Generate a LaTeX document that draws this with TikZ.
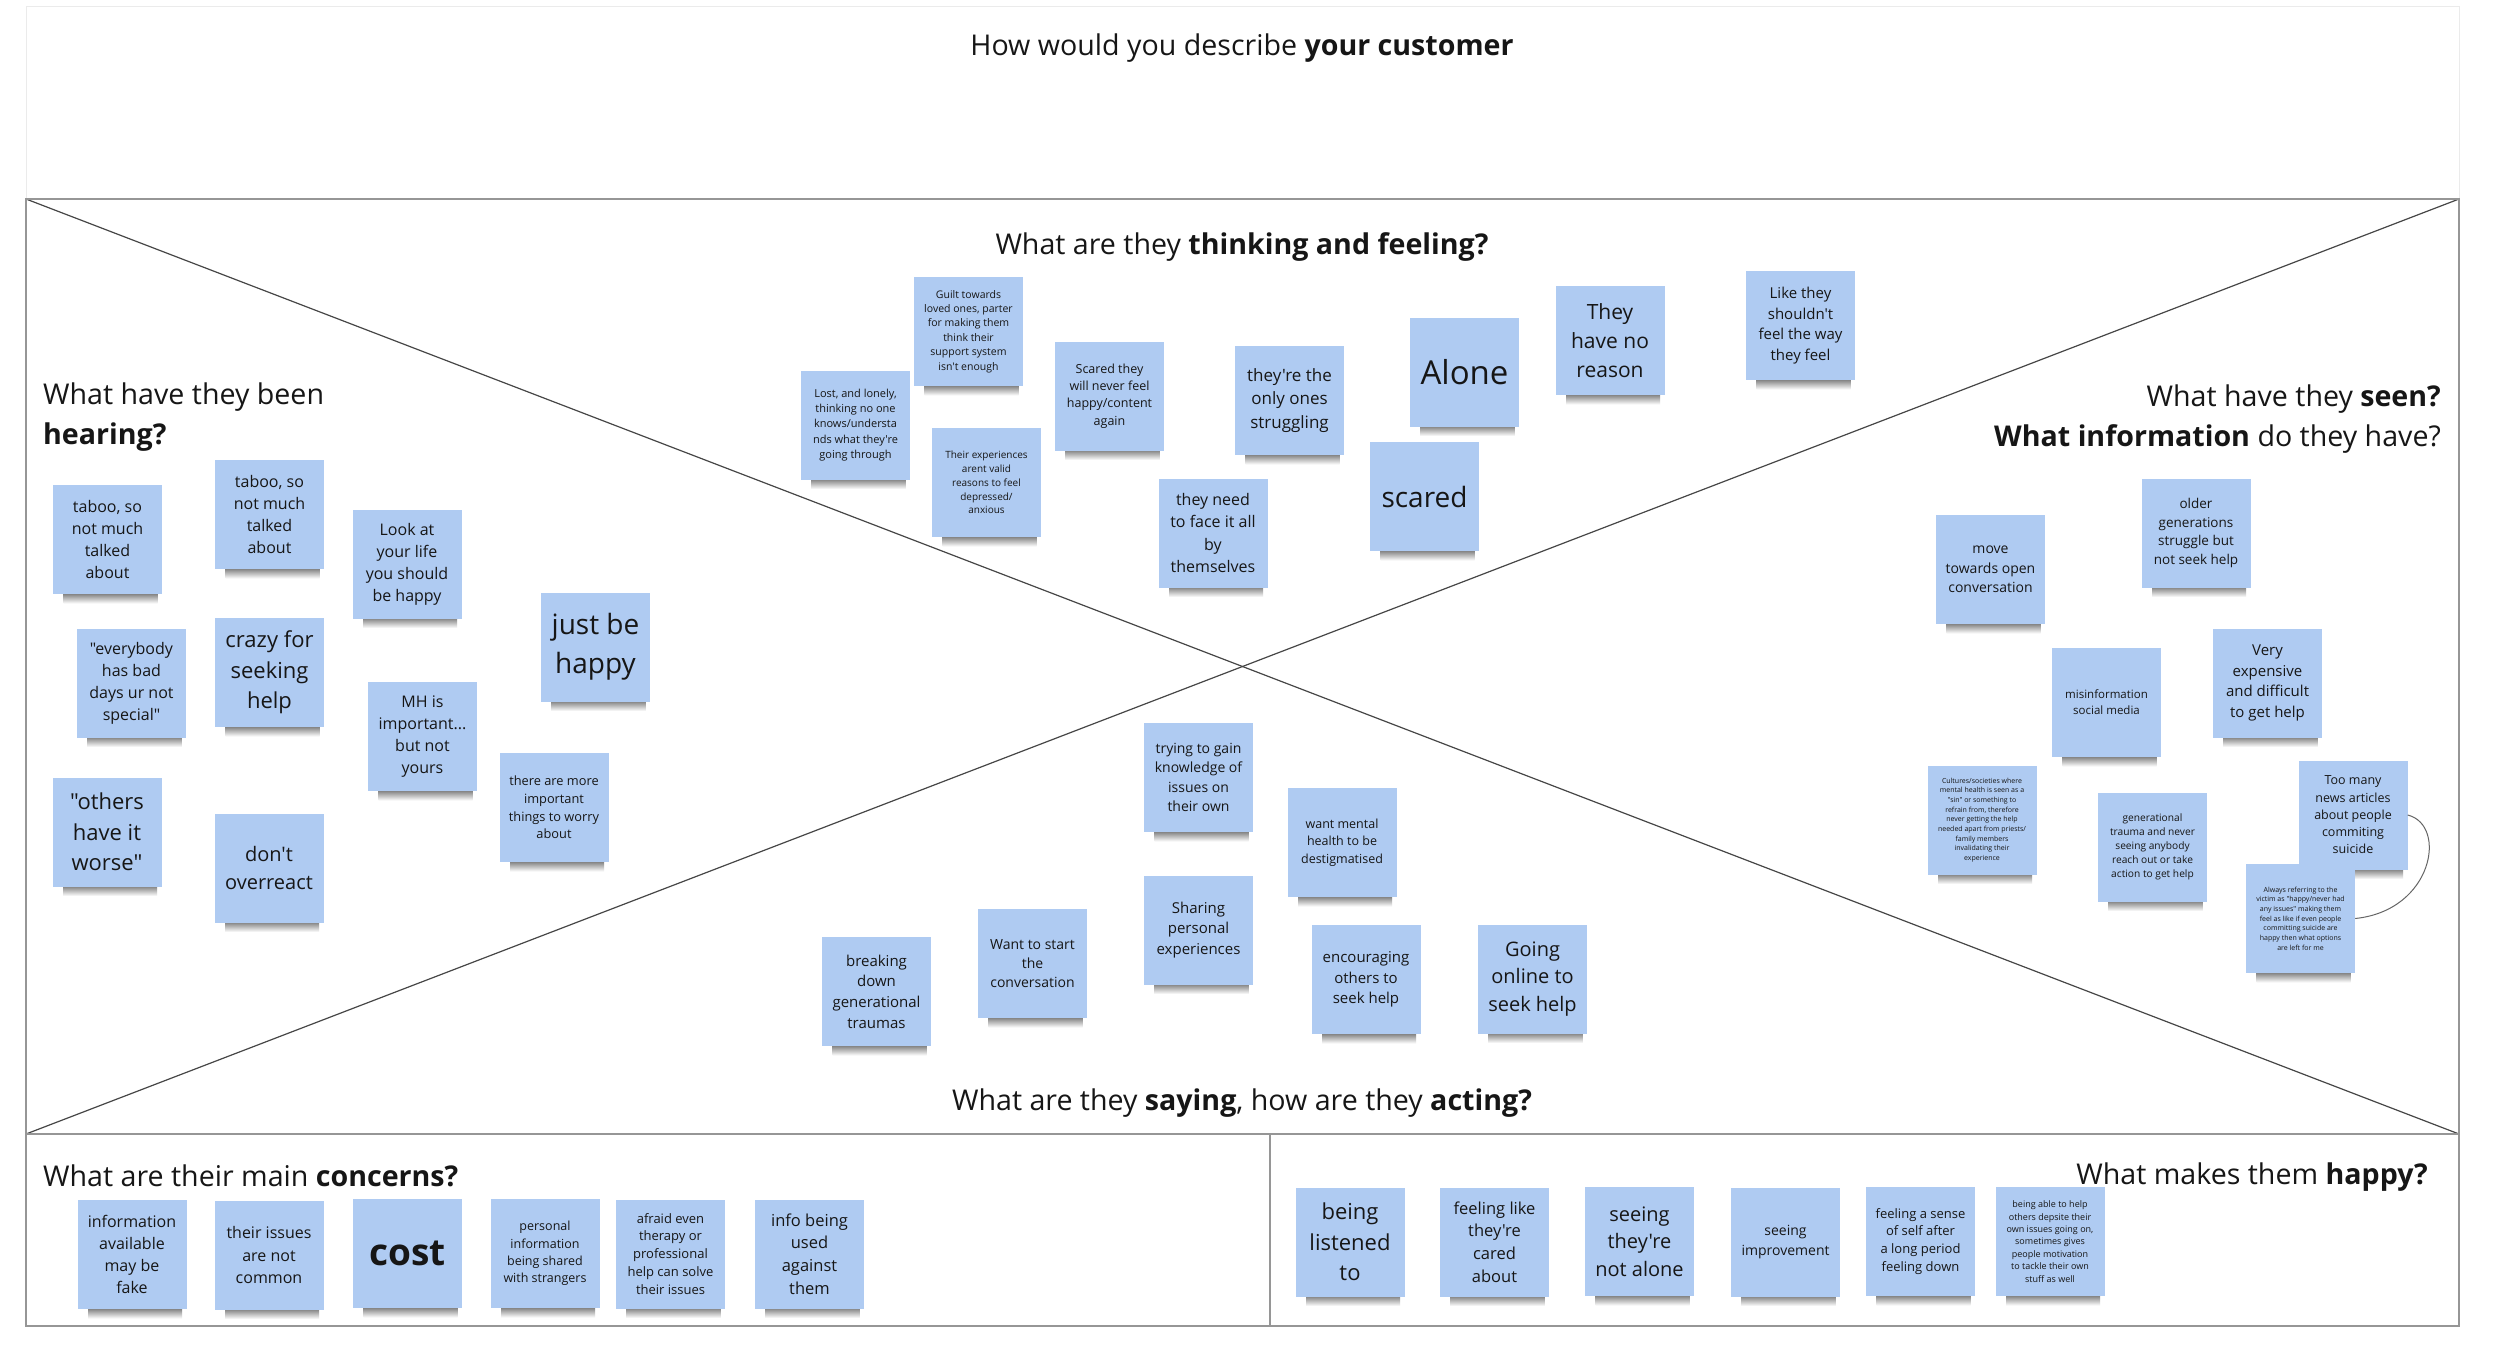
\documentclass[tikz,border=0pt]{standalone}
\usepackage{fontspec}
\setmainfont{Open Sans}[Ligatures=TeXOff]
\definecolor{stickyblue}{RGB}{175,203,242}
\definecolor{framegray}{RGB}{150,150,150}
\definecolor{linegray}{RGB}{70,70,70}
\definecolor{ink}{RGB}{22,22,22}
\tikzset{
  sticky/.style={rectangle, fill=stickyblue, minimum width=109pt, minimum height=109pt, inner sep=0pt, align=center, text=ink},
  stshadow/.style={top color=black!60, bottom color=white},
  heading/.style={font=\fontsize{28.6}{40}\selectfont, text=ink, inner sep=0pt},
  framestyle/.style={draw=framegray, line width=2pt},
  diag/.style={draw=linegray, line width=1.2pt},
  link/.style={draw=black!60, line width=1pt},
}
\newcommand\stk[5]{%
  \shade[stshadow] (#2-44,#3+52) rectangle (#2+50,#3+64);
  \pgfmathsetmacro{\stkbls}{#4*1.38}%
  \node[sticky,font=\fontsize{#4}{\stkbls}\selectfont] (#1) at (#2,#3) {#5};
}
\begin{document}
\begin{tikzpicture}[x=1pt,y=-1pt]
\useasboundingbox (0,0) rectangle (2500,1366);
\fill[white] (0,0) rectangle (2500,1366);

% frame
\draw[black!8, line width=1pt] (26,6) rectangle (2459,199);
\coordinate (TL) at (26,199);
\coordinate (TR) at (2459,199);
\coordinate (ML) at (26,1134);
\coordinate (MR) at (2459,1134);
\coordinate (BL) at (26,1326);
\coordinate (BR) at (2459,1326);
\coordinate (DT) at (1270,1134);
\coordinate (DB) at (1270,1326);
\draw[diag] (TL) -- (MR);
\draw[diag] (ML) -- (TR);
\draw[framestyle] (TL) rectangle (BR);
\draw[framestyle] (ML) -- (MR);
\draw[framestyle] (DT) -- (DB);

% headings
\node[heading] (title) at (1242,48) {How would you describe \textbf{your customer}};
\node[heading] (think) at (1242,247) {What are they \textbf{thinking and feeling?}};
\node[heading, anchor=west, align=left] (hear) at (43,417) {What have they been\\\textbf{hearing?}};
\node[heading, anchor=east, align=right] (seen) at (2441,419) {What have they \textbf{seen?}\\\textbf{What information} do they have?};
\node[heading] (say) at (1242,1103) {What are they \textbf{saying}, how are they \textbf{acting?}};
\node[heading, anchor=west] (conc) at (43,1176) {What are their main \textbf{concerns?}};
\node[heading, anchor=east] (happy) at (2428,1177) {What makes them \textbf{happy?}};

% hearing
\stk{h1}{107.5}{539.5}{16}{taboo, so\\not much\\talked\\about}
\stk{h2}{269.5}{514.5}{16}{taboo, so\\not much\\talked\\about}
\stk{h3}{407}{564}{16}{Look at\\your life\\you should\\be happy}
\stk{h4}{595.5}{647}{28}{just be\\happy}
\stk{h5}{131.5}{683}{16}{"everybody\\has bad\\days ur not\\special"}
\stk{h6}{269.5}{672.5}{22}{crazy for\\seeking\\help}
\stk{h7}{422.5}{736.5}{16}{MH is\\important...\\but not\\yours}
\stk{h8}{107}{832}{22}{"others\\have it\\worse"}
\stk{h9}{269}{868}{20}{don't\\overreact}
\stk{h10}{554}{807.5}{12.8}{there are more\\important\\things to worry\\about}

% thinking
\stk{t1}{968.5}{331.5}{10.5}{Guilt towards\\loved ones, parter\\for making them\\think their\\support system\\isn't enough}
\stk{t2}{855.5}{425}{11}{Lost, and lonely,\\thinking no one\\knows/understa\\nds what they're\\going through}
\stk{t3}{986.5}{482.5}{10}{Their experiences\\arent valid\\reasons to feel\\depressed/\\anxious}
\stk{t4}{1109.5}{396}{12.5}{Scared they\\will never feel\\happy/content\\again}
\stk{t5}{1289.5}{400.5}{17}{they're the\\only ones\\struggling}
\stk{t6}{1213}{533}{16}{they need\\to face it all\\by\\themselves}
\stk{t7}{1464.5}{372}{33}{Alone}
\stk{t8}{1424.5}{496.5}{28}{scared}
\stk{t9}{1610}{340.5}{21}{They\\have no\\reason}
\stk{t10}{1800.5}{325.5}{15}{Like they\\shouldn't\\feel the way\\they feel}

% seen
\stk{s1}{1990.5}{569.5}{14}{move\\towards open\\conversation}
\stk{s2}{2196}{533}{13.5}{older\\generations\\struggle but\\not seek help}
\stk{s3}{2106.5}{702.5}{11.5}{misinformation\\social media}
\stk{s4}{2267.5}{683}{15}{Very\\expensive\\and difficult\\to get help}
\stk{s5}{1982}{820}{7}{Cultures/societies where\\mental health is seen as a\\"sin" or something to\\refrain from, therefore\\never getting the help\\needed apart from priests/\\family members\\invalidating their\\experience}
\stk{s6}{2152.5}{847}{10.2}{generational\\trauma and never\\seeing anybody\\reach out or take\\action to get help}
\stk{s7}{2353}{815}{12.5}{Too many\\news articles\\about people\\commiting\\suicide}
\stk{s8}{2300.5}{918.5}{7}{Always referring to the\\victim as "happy/never had\\any issues" making them\\feel as like if even people\\committing suicide are\\happy then what options\\are left for me}
\draw[link] (s7.east) .. controls +(40,10) and +(78,-8) .. (s8.east);

% saying / acting
\stk{a1}{1198.5}{777.5}{14}{trying to gain\\knowledge of\\issues on\\their own}
\stk{a2}{1342}{842.5}{12.5}{want mental\\health to be\\destigmatised}
\stk{a3}{1198.5}{930}{15}{Sharing\\personal\\experiences}
\stk{a4}{876.5}{991.5}{15}{breaking\\down\\generational\\traumas}
\stk{a5}{1032.5}{963.5}{14}{Want to start\\the\\conversation}
\stk{a6}{1366}{979.5}{15}{encouraging\\others to\\seek help}
\stk{a7}{1532.5}{979}{20}{Going\\online to\\seek help}

% concerns
\stk{c1}{132}{1254.5}{16}{information\\available\\may be\\fake}
\stk{c2}{269}{1255}{16}{their issues\\are not\\common}
\stk{c3}{407.5}{1253.5}{37}{\textbf{cost}}
\stk{c4}{545}{1253.5}{12.5}{personal\\information\\being shared\\with strangers}
\stk{c5}{670.5}{1254}{13}{afraid even\\therapy or\\professional\\help can solve\\their issues}
\stk{c6}{809.5}{1254}{16.5}{info being\\used\\against\\them}

% happy
\stk{p1}{1350}{1242}{22}{being\\listened\\to}
\stk{p2}{1494.5}{1242}{16.5}{feeling like\\they're\\cared\\about}
\stk{p3}{1639.5}{1241.5}{20}{seeing\\they're\\not alone}
\stk{p4}{1785.5}{1242}{14}{seeing\\improvement}
\stk{p5}{1920.5}{1241.5}{13}{feeling a sense\\of self after\\a long period\\feeling down}
\stk{p6}{2050}{1241.5}{9}{being able to help\\others depsite their\\own issues going on,\\sometimes gives\\people motivation\\to tackle their own\\stuff as well}
\end{tikzpicture}
\end{document}
